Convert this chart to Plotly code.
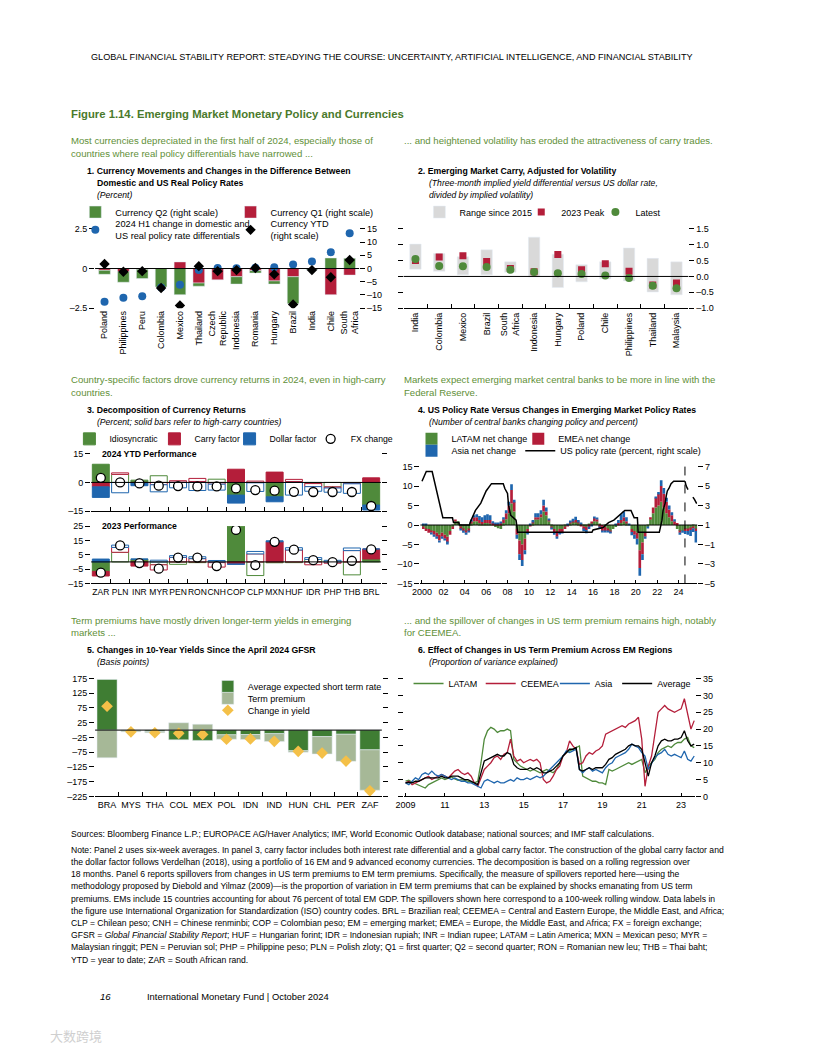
import plotly.graph_objects as go

# The page body keeps an 8px margin, so the figure is 800x1040 and page coordinates are mapped onto it.
FIG_W, FIG_H, PAGE_MARGIN = 800, 1040, 8
def px(x): return (x - PAGE_MARGIN) / FIG_W
def py(y): return 1 - (y - PAGE_MARGIN) / FIG_H

FONT = "Liberation Sans, Arial, sans-serif"
GREEN = "#4f8a3b"
RED = "#b41e3a"
BLUE = "#1f66ae"
GRAY = "#d9d9d9"
DKGREEN = "#3f7d33"
LTGREEN = "#a6b897"
YELLOW = "#f4c048"
CAPTION = "#5f9038"
TITLEGREEN = "#4a7a2c"

# ---------------- Panel 1 ----------------
P1_COUNTRIES = ["Poland", "Philippines", "Peru", "Colombia", "Mexico", "Thailand", "Czech<br>Republic",
                "Indonesia", "Romania", "Hungary", "Brazil", "India", "Chile", "South<br>Africa"]
P1_Q1 = [-0.7, -1.2, -0.3, 0.0, 2.5, -5.5, -4.3, -3.1, -0.8, -4.7, -3.1, -0.3, -9.9, -2.5]
P1_Q2 = [-1.5, -4.0, -3.5, -7.0, -9.9, -1.2, 0.0, -2.8, -0.9, -1.2, -10.2, -0.3, 4.0, 3.9]
P1_YTD = [1.7, -1.2, -1.0, -7.4, -14.0, 0.9, -1.0, -0.6, 0.2, -2.2, -13.6, -0.6, -3.3, 3.2]
P1_RATE_DIFF = [-2.1, -1.85, -1.75, -1.2, -1.03, -0.1, 0.04, 0.02, 0.05, 0.08, 0.25, 0.45, 1.03, 2.22]

# ---------------- Panel 2 ----------------
P2_COUNTRIES = ["India", "Colombia", "Mexico", "Brazil", "South<br>Africa", "Indonesia", "Hungary",
                "Poland", "Chile", "Philippines", "Thailand", "Malaysia"]
P2_RANGE_LOW = [0.23, 0.16, 0.05, 0.05, 0.13, -0.02, -0.35, -0.17, -0.07, -0.14, -0.49, -0.58]
P2_RANGE_HIGH = [1.02, 0.72, 0.62, 0.84, 0.46, 1.24, 0.70, 0.37, 0.46, 0.90, 0.57, 0.46]
P2_PEAK_2023 = [0.50, 0.61, 0.65, 0.47, 0.25, 0.15, 0.69, 0.21, 0.40, 0.16, -0.27, -0.21]
P2_LATEST = [0.55, 0.33, 0.32, 0.30, 0.21, 0.14, 0.10, 0.08, 0.03, -0.05, -0.29, -0.37]

# ---------------- Panel 3 ----------------
P3_CCY = ["ZAR", "PLN", "INR", "MYR", "PEN", "RON", "CNH", "COP", "CLP", "MXN", "HUF", "IDR", "PHP", "THB", "BRL"]
P3_HIGH_CARRY = ["ZAR", "INR", "COP", "MXN", "BRL"]
YTD_IDIO = [9.5, 4.2, 1.2, 3.5, 0.2, 0.5, 1.7, -6.6, -0.2, -7.5, 0.5, -0.6, -2.3, -0.2, -11.8]
YTD_CARRY = [-2.3, 0.8, -0.3, -1.2, 0.7, 1.6, -0.9, 6.9, 0.7, 5.4, 1.1, -1.6, -0.6, -0.5, 2.4]
YTD_DOLLAR = [-5.5, -5.4, -1.4, -3.7, -2.8, -4.2, -3.1, -4.2, -4.5, -2.6, -6.6, -2.4, -2.2, -5.0, -2.6]
YTD_FX = [2.4, 0.0, -0.5, -1.7, -1.9, -2.1, -2.1, -3.1, -4.0, -4.3, -4.9, -5.0, -5.0, -5.0, -12.3]
Y23_IDIO = [-6.6, 6.7, 1.8, -2.0, -1.7, -0.5, -0.5, 24.9, -9.5, -0.6, -0.5, 1.7, 0.0, -9.0, 2.1]
Y23_CARRY = [-3.2, 3.4, -2.9, -3.6, 3.2, 2.3, -3.1, -1.4, 5.6, 14.0, 8.3, -2.0, -0.9, 7.9, 6.9]
Y23_DOLLAR = [2.0, 1.6, 0.3, 1.2, 1.2, 1.3, 1.0, -0.3, 1.7, 0.7, 1.6, 1.3, 1.1, 1.8, 0.0]
Y23_FX = [-7.5, 11.5, -0.8, -4.7, 3.0, 3.0, -2.9, 22.3, -2.2, 14.0, 8.5, 1.2, -0.2, 0.8, 8.7]

# ---------------- Panel 4 (quarterly, 2000Q1 onward) ----------------
LATAM_NET = [-0.5, -1, -1, -1.5, -1.5, -2, -2.5, -2, -2.5, -3, -1.5, -0.5, 1.0, 1.0, -0.5, -1.0,
             -1.5, -1, 0.5, 1.0, 1.0, 0.5, 0.3, 0.5, 0.5, 0.3, 0, -0.5, -0.8, -1.0, 0.5, 1.5,
             3.0, 5.5, 3.5, -1.0, -4.0, -5.0, -3.5, -1.0, 0, 0.5, 1.5, 1.5, 2.0, 3.5, 2.5, 1.0,
             -0.5, -1.0, -1.5, -1.0, -1.0, -0.5, 0, 0.5, 0.8, 0.8, 0.5, 0.3, -0.3, -0.5, 0.3, 0.5,
             1.0, 1.0, 0.3, 0, -0.5, -1.0, -1.5, -1.0, -0.5, 0, 0.5, 1.0, 0.5, 0, -1.0, -1.5,
             -2.0, -6.5, -4.5, -2.0, -0.5, 1.5, 3.0, 4.5, 5.0, 6.0, 4.5, 3.0, 2.0, 1.0, 0, -1.0,
             -1.5, -1.5, -1.0, -1.0, -0.8, -0.5, -1.0]
EMEA_NET = [-0.5, -0.5, -1, -0.5, -1, -1, -1.5, -1, -1, -1.5, -1, -0.5, 0.3, 0, -0.5, -0.5,
            -0.5, -0.5, 0.5, 1.0, 1.0, 0.8, 0.5, 0.8, 0.8, 1.0, 0.5, 0.3, 0.3, 0.5, 1.0, 1.5,
            2.0, 3.5, 2.5, -1.5, -3.5, -4.0, -3.0, -1.0, -0.3, 0.3, 0.5, 0.5, 0.8, 1.5, 1.0, 0.3,
            -0.3, -1.0, -1.5, -1.0, -1.0, -0.5, -0.3, 0.3, 0.3, 0.5, 0.3, -0.3, -0.8, -0.8, -0.5, 0.3,
            0.8, 0.5, -0.5, -1.5, -1.0, -0.5, -0.3, 0, 0, 0.5, 0.8, 1.0, 0.5, 0, -0.8, -1.0,
            -1.5, -4.5, -3.0, -1.0, 0, 0.5, 1.5, 2.5, 3.0, 4.0, 3.5, 3.0, 2.0, 1.5, 1.0, 0.5,
            -0.5, 0, -0.5, -0.5, -0.5, -0.3, -0.5]
ASIA_NET = [0.3, 0.2, 0, -0.3, -0.5, -0.5, -0.5, -0.5, -0.5, -0.5, 0, 0, 0, 0, -0.3, -0.5,
            -0.5, -0.3, 0.3, 0.5, 0.8, 1.0, 1.2, 1.2, 1.5, 1.2, 0.5, 0.3, 0.2, 0.3, 0.5, 0.8,
            1.0, 1.5, 0.5, -1.0, -1.5, -1.5, -1.0, -0.3, 0.3, 0.5, 1.0, 1.0, 1.0, 1.5, 1.0, 0.3,
            -0.2, -0.5, -0.5, -0.3, -0.2, 0, 0.3, 0.3, 0.5, 0.8, 0.5, 0.3, -0.5, -0.8, -0.5, -0.3,
            0.3, 0.3, -0.2, -0.3, -0.3, -0.3, -0.3, 0, 0.3, 0.8, 1.5, 1.5, 1.0, 0.3, -0.8, -1.0,
            -1.5, -2.0, -1.5, -0.5, -0.3, 0, 0, 0.3, 0.5, 1.5, 1.5, 1.0, 1.0, 0.8, 0.5, 0,
            -0.5, -0.5, -0.8, -1.0, -1.5, -1.0, -3.0]
P4_T = [2000.125 + 0.25 * i for i in range(len(LATAM_NET))]
US_RATE_T = [2000.0, 2000.1, 2000.4, 2000.95, 2001.05, 2001.25, 2001.5, 2001.75, 2001.95, 2002.85,
             2002.95, 2003.45, 2003.5, 2004.45, 2004.5, 2005.0, 2005.5, 2006.0, 2006.5, 2007.6,
             2007.75, 2008.0, 2008.1, 2008.3, 2008.8, 2008.95, 2015.9, 2016.0, 2016.95, 2017.2,
             2017.45, 2017.95, 2018.2, 2018.45, 2018.75, 2018.97, 2019.55, 2019.65, 2019.8, 2019.85,
             2020.15, 2020.22, 2022.2, 2022.3, 2022.45, 2022.55, 2022.75, 2022.85, 2022.95, 2023.1,
             2023.3, 2023.55, 2024.6]
US_RATE = [5.5, 5.75, 6.5, 6.5, 6.0, 5.0, 3.9, 2.5, 1.75, 1.75,
           1.25, 1.25, 1.0, 1.0, 1.25, 2.5, 3.25, 4.5, 5.25, 5.25,
           4.75, 4.25, 3.0, 2.0, 1.5, 0.25, 0.25, 0.5, 0.75, 1.0,
           1.25, 1.5, 1.75, 2.0, 2.25, 2.5, 2.5, 2.25, 2.0, 1.75,
           1.75, 0.25, 0.25, 0.75, 1.5, 2.5, 3.25, 4.0, 4.5, 4.75,
           5.25, 5.5, 5.5]
US_PROJ_T = [2024.6, 2024.72, 2024.9, 2025.1, 2025.3, 2025.5, 2025.7]
US_PROJ = [5.5, 5.0, 4.6, 4.3, 4.0, 3.6, 3.2]
FORECAST_START = 2024.6
P4_YEARS = list(range(2000, 2025, 2))
P4_YEAR_LABELS = ["2000", "02", "04", "06", "08", "10", "12", "14", "16", "18", "20", "22", "24"]

# ---------------- Panel 5 ----------------
P5_CTRY = ["BRA", "MYS", "THA", "COL", "MEX", "POL", "IDN", "IND", "HUN", "CHL", "PER", "ZAF"]
P5_EXP_SHORT = [172, -2, -4, -33, -35, -16, -15, -12, -70, -22, -14, -67]
P5_TERM_PREM = [-94, -4, -5, 25, 20, -15, -17, -27, -5, -59, -92, -137]
P5_CHANGE = [81, -6, -9, -11, -15, -31, -30, -38, -72, -78, -105, -206]

# ---------------- Panel 6 (bi-monthly, from 2009) ----------------
P6_LATAM = [4.5, 4.8, 4.2, 3.8, 3.5, 3.0,
            2.5, 3.5, 4.0, 4.5, 5.0, 5.5,
            5.0, 5.5, 5.8, 5.2, 4.8, 5.0,
            4.8, 4.5, 4.2, 4.0, 4.5, 10.0,
            17.0, 19.5, 20.5, 20.0, 19.0, 19.5,
            19.5, 20.0, 19.5, 11.0, 10.0, 9.0,
            8.5, 8.0, 7.5, 8.0, 7.5, 7.0,
            7.5, 8.0, 7.5, 7.0, 8.0, 10.0,
            12.0, 13.0, 13.5, 14.0, 14.5, 15.0,
            6.0, 5.5, 5.0, 4.5, 4.5, 4.0,
            4.0, 3.5, 8.0, 7.5, 8.0, 8.5,
            9.0, 9.5, 10.0, 9.5, 10.0, 10.5,
            11.0, 7.0, 9.0, 10.0, 11.0, 13.0,
            14.0, 14.5, 15.0, 14.5, 15.5, 16.0,
            16.0, 17.0, 17.5, 15.0, 14.5]
P6_CEEMEA = [4.0, 4.5, 3.5, 4.0, 4.5, 5.0,
             5.5, 6.0, 5.0, 5.5, 6.0, 6.5,
             6.0, 5.5, 6.5, 7.5, 8.0, 7.0,
             6.5, 7.0, 6.0, 4.0, 3.0, 5.5,
             8.0, 9.0, 10.0, 11.5, 12.0, 11.0,
             12.5, 13.0, 17.0, 12.0, 10.5, 11.0,
             10.0, 10.5, 11.0, 10.5, 11.0, 10.0,
             5.0, 4.0, 4.5, 6.0, 8.0, 9.0,
             12.0, 13.0, 16.5, 15.0, 14.0, 9.5,
             10.0, 12.0, 13.0, 12.5, 13.5, 14.0,
             15.0, 18.5, 19.0, 19.5, 20.0, 20.5,
             21.0, 20.5, 21.5, 22.0, 22.5, 23.5,
             17.0, 3.0, 9.0, 12.0, 19.0, 25.0,
             26.0, 27.0, 26.0, 25.5, 25.0, 25.5,
             26.0, 29.0, 24.0, 20.0, 22.5]
P6_ASIA = [4.0, 3.5, 4.5, 5.5, 5.0, 6.5,
           7.0, 6.5, 7.5, 6.5, 6.0, 6.5,
           6.0, 5.5, 5.0, 5.5, 5.0, 4.5,
           4.5, 4.0, 4.0, 3.5, 3.0, 2.5,
           4.5, 5.0, 4.5, 4.0, 4.5, 4.0,
           4.0, 4.5, 5.0, 4.5, 5.5, 5.0,
           5.0, 5.5, 5.0, 5.5, 6.0, 5.5,
           6.0, 7.0, 8.0, 9.0, 10.0, 11.0,
           12.0, 13.5, 13.0, 13.5, 14.0, 8.0,
           7.0, 8.0, 8.5, 7.5, 8.0, 7.5,
           7.0, 8.5, 9.5, 10.0, 11.5, 12.0,
           12.5, 13.0, 14.0, 15.5, 15.0, 14.5,
           13.0, 12.0, 8.0, 10.0, 11.5, 12.5,
           13.0, 14.0, 12.5, 12.0, 12.5, 12.0,
           11.5, 13.5, 11.0, 10.5, 12.0]
P6_AVERAGE = [4.0, 4.2, 4.0, 4.5, 4.5, 5.0,
              5.5, 5.5, 5.5, 5.5, 5.5, 6.0,
              5.5, 5.5, 6.0, 6.0, 6.0, 5.5,
              5.0, 5.0, 4.5, 4.0, 3.5, 7.0,
              10.5, 11.0, 11.5, 12.0, 12.5, 12.0,
              12.0, 13.0, 12.5, 9.5, 8.5, 8.0,
              8.0, 8.0, 8.5, 8.0, 8.5, 8.0,
              7.0, 7.0, 7.5, 8.0, 9.0, 10.0,
              12.0, 13.0, 14.0, 14.0, 14.5, 8.0,
              7.5, 8.0, 8.5, 8.0, 8.5, 8.5,
              8.5, 9.5, 11.0, 11.5, 12.5, 13.0,
              13.5, 14.0, 15.0, 15.5, 15.0, 15.0,
              14.0, 10.0, 6.0, 10.0, 12.0, 15.0,
              16.5, 17.0, 16.5, 16.5, 17.0, 17.0,
              17.5, 19.5, 16.5, 15.0, 15.5]
P6_T = [2009.0 + k / 6 for k in range(len(P6_LATAM))]
P6_YEARS = list(range(2009, 2024, 2))
P6_YEAR_LABELS = ["2009", "11", "13", "15", "17", "19", "21", "23"]

fig = go.Figure()

LEGENDS = {}
def lg(lx, ty, size=9.2):
    n = len(LEGENDS) + 1
    key = "legend" if n == 1 else "legend%d" % n
    LEGENDS[key] = dict(x=px(lx), y=py(ty), xanchor="left", yanchor="middle", orientation="v",
                        font=dict(family=FONT, size=size, color="black"), bgcolor="rgba(0,0,0,0)",
                        borderwidth=0, itemclick=False, itemdoubleclick=False, tracegroupgap=0)
    return key

# Panel 1 traces
fig.add_trace(go.Bar(x=P1_COUNTRIES, y=P1_Q1, name="Currency Q1 (right scale)", marker_color=RED,
                     width=0.62, xaxis="x", yaxis="y", legend=lg(225, 209)))
fig.add_trace(go.Bar(x=P1_COUNTRIES, y=P1_Q2, name="Currency Q2 (right scale)", marker_color=GREEN,
                     width=0.62, xaxis="x", yaxis="y", legend=lg(68, 209)))
fig.add_trace(go.Scatter(x=P1_COUNTRIES, y=P1_RATE_DIFF, mode="markers",
                         name="2024 H1 change in domestic and<br>US real policy rate differentials",
                         marker=dict(color=BLUE, size=8), xaxis="x", yaxis="y2", legend=lg(68, 227)))
fig.add_trace(go.Scatter(x=P1_COUNTRIES, y=P1_YTD, mode="markers", name="Currency YTD<br>(right scale)",
                         marker=dict(color="black", size=8, symbol="diamond"), xaxis="x", yaxis="y3",
                         legend=lg(225, 227)))

# Panel 2 traces
fig.add_trace(go.Bar(x=P2_COUNTRIES, y=[h - l for h, l in zip(P2_RANGE_HIGH, P2_RANGE_LOW)], base=P2_RANGE_LOW,
                     name="Range since 2015", marker_color=GRAY, width=0.48, xaxis="x2", yaxis="y4",
                     legend=lg(416, 209, 9)))
fig.add_trace(go.Scatter(x=P2_COUNTRIES, y=P2_PEAK_2023, mode="markers", name="2023 Peak",
                         marker=dict(color=RED, size=7, symbol="square"), xaxis="x2", yaxis="y4",
                         legend=lg(519, 209, 9)))
fig.add_trace(go.Scatter(x=P2_COUNTRIES, y=P2_LATEST, mode="markers", name="Latest",
                         marker=dict(color=GREEN, size=8), xaxis="x2", yaxis="y4", legend=lg(594, 209, 9)))

# Panel 3 traces
def fills(color):
    return [color if c in P3_HIGH_CARRY else "white" for c in P3_CCY]

for (vals_a, vals_b, name, color, lx) in [(YTD_IDIO, Y23_IDIO, "Idiosyncratic", GREEN, 62),
                                          (YTD_CARRY, Y23_CARRY, "Carry factor", RED, 148),
                                          (YTD_DOLLAR, Y23_DOLLAR, "Dollar factor", BLUE, 224)]:
    fig.add_trace(go.Bar(x=P3_CCY, y=vals_a, name=name, width=0.88,
                         marker=dict(color=fills(color), line=dict(color=color, width=1)),
                         xaxis="x3", yaxis="y5", legend=lg(lx, 438, 8.7)))
    fig.add_trace(go.Bar(x=P3_CCY, y=vals_b, name=name, width=0.88, showlegend=False,
                         marker=dict(color=fills(color), line=dict(color=color, width=1)),
                         xaxis="x4", yaxis="y6"))
fig.add_trace(go.Scatter(x=P3_CCY, y=YTD_FX, mode="markers", name="FX change",
                         marker=dict(color="white", size=9, line=dict(color="black", width=1.3)),
                         xaxis="x3", yaxis="y5", legend=lg(306, 438, 8.7)))
fig.add_trace(go.Scatter(x=P3_CCY, y=Y23_FX, mode="markers", name="FX change", showlegend=False,
                         marker=dict(color="white", size=9, line=dict(color="black", width=1.3)),
                         xaxis="x4", yaxis="y6"))

# Panel 4 traces
fig.add_trace(go.Bar(x=P4_T, y=LATAM_NET, name="LATAM net change", marker=dict(color=GREEN, line=dict(width=0)),
                     width=0.25, xaxis="x5", yaxis="y7", legend=lg(408, 438, 9)))
fig.add_trace(go.Bar(x=P4_T, y=EMEA_NET, name="EMEA net change", marker=dict(color=RED, line=dict(width=0)),
                     width=0.25, xaxis="x5", yaxis="y7", legend=lg(516, 438, 9)))
fig.add_trace(go.Bar(x=P4_T, y=ASIA_NET, name="Asia net change", marker=dict(color=BLUE, line=dict(width=0)),
                     width=0.25, xaxis="x5", yaxis="y7", legend=lg(408, 450, 9)))
fig.add_trace(go.Scatter(x=US_RATE_T, y=US_RATE, mode="lines", name="US policy rate (percent, right scale)",
                         line=dict(color="black", width=1.5), xaxis="x5", yaxis="y8", legend=lg(518, 450, 9)))
fig.add_trace(go.Scatter(x=US_PROJ_T, y=US_PROJ, mode="lines", showlegend=False,
                         line=dict(color="black", width=1.5, dash="dash"), xaxis="x5", yaxis="y8"))

# Panel 5 traces
fig.add_trace(go.Bar(x=P5_CTRY, y=P5_EXP_SHORT, name="Average expected short term rate", marker_color=DKGREEN,
                     width=0.84, xaxis="x6", yaxis="y9", legend=lg(202, 688, 9)))
fig.add_trace(go.Bar(x=P5_CTRY, y=P5_TERM_PREM, name="Term premium", marker_color=LTGREEN,
                     width=0.84, xaxis="x6", yaxis="y9", legend=lg(202, 700, 9)))
fig.add_trace(go.Scatter(x=P5_CTRY, y=P5_CHANGE, mode="markers", name="Change in yield",
                         marker=dict(color=YELLOW, size=9, symbol="diamond"), xaxis="x6", yaxis="y9",
                         legend=lg(202, 712, 9)))

# Panel 6 traces
for vals, name, color, lx in [(P6_LATAM, "LATAM", GREEN, 405), (P6_CEEMEA, "CEEMEA", RED, 478),
                              (P6_ASIA, "Asia", BLUE, 553), (P6_AVERAGE, "Average", "black", 616)]:
    fig.add_trace(go.Scatter(x=P6_T, y=vals, mode="lines", name=name, line=dict(color=color, width=1.3),
                             xaxis="x7", yaxis="y10", legend=lg(lx, 685, 9)))

TICKF = dict(family=FONT, size=9, color="black")

def dash_labels(vals, fmt="{:g}"):
    return [fmt.format(v).replace("-", "–") for v in vals]

def yax(dom, rng, vals, side="left", labels=True, mirror=False, fmt="{:g}", **kw):
    d = dict(domain=[py(dom[0]), py(dom[1])], range=rng, tickvals=vals, ticktext=dash_labels(vals, fmt),
             side=side, ticks="outside", ticklen=5, tickcolor="black", tickwidth=1, showgrid=False,
             zeroline=False, showline=False, showticklabels=labels, tickfont=TICKF, fixedrange=True)
    if mirror:
        d["mirror"] = "ticks"
    d.update(kw)
    return d

def xcat(dom, anchor, n, line=False, labels=True, angle=0, ticks="", size=9):
    d = dict(domain=[px(dom[0]), px(dom[1])], anchor=anchor, type="category", range=[-0.5, n - 0.5],
             showgrid=False, zeroline=False,
             showline=line, linecolor="black", linewidth=1, showticklabels=labels, tickangle=angle,
             tickfont=dict(family=FONT, size=size, color="black"), ticks=ticks, ticklen=4,
             tickcolor="black", fixedrange=True)
    if ticks:
        d["tickson"] = "boundaries"
    return d

layout = dict(
    width=FIG_W, height=FIG_H, margin=dict(l=0, r=0, t=0, b=0), autosize=False,
    paper_bgcolor="white", plot_bgcolor="white", barmode="relative",
    font=dict(family=FONT, size=9.5, color="black"),
    # Panel 1
    xaxis=xcat((88, 355), "y", len(P1_COUNTRIES), angle=-90),
    yaxis=yax((306, 226), [-15, 15], [-15, -10, -5, 0, 5, 10, 15], side="right", anchor="x"),
    yaxis2=yax((306, 226), [-2.5, 2.5], [-2.5, 0, 2.5], side="left", overlaying="y", anchor="x"),
    yaxis3=dict(overlaying="y", range=[-15, 15], visible=False, anchor="x"),
    # Panel 2
    xaxis2=xcat((400, 688), "y4", len(P2_COUNTRIES), line=True, angle=-90, ticks="inside"),
    yaxis4=yax((306, 226), [-1.0, 1.5], [-1.0, -0.5, 0, 0.5, 1.0, 1.5], side="right", mirror=True,
               fmt="{:.1f}", anchor="x2"),
    # Panel 3
    xaxis3=xcat((84, 377), "y5", len(P3_CCY), line=True, labels=False, ticks="inside"),
    yaxis5=yax((511, 453), [-15, 15], [-15, 0, 15], mirror=True, anchor="x3"),
    xaxis4=xcat((84, 377), "y6", len(P3_CCY), line=True, ticks="inside", size=8.5),
    yaxis6=yax((584, 526), [-15, 25], [-15, -5, 5, 15, 25], mirror=True, anchor="x4"),
    # Panel 4
    xaxis5=dict(domain=[px(417), px(697)], anchor="y7", range=[1999.85, 2025.75], tickvals=P4_YEARS,
                ticktext=P4_YEAR_LABELS, showline=True, linecolor="black", ticks="inside", ticklen=3,
                tickcolor="black", showgrid=False, zeroline=False, tickfont=TICKF, fixedrange=True),
    yaxis7=yax((584, 466), [-15, 15], [-15, -10, -5, 0, 5, 10, 15], anchor="x5"),
    yaxis8=yax((584, 466), [-5, 7], [-5, -3, -1, 1, 3, 5, 7], side="right", overlaying="y7", anchor="x5"),
    # Panel 5
    xaxis6=xcat((88, 378), "y9", len(P5_CTRY), line=True, ticks="inside", size=9),
    yaxis9=yax((799, 680), [-225, 175], [-225, -175, -125, -75, -25, 25, 75, 125, 175], mirror=True,
               anchor="x6"),
    # Panel 6
    xaxis7=dict(domain=[px(400), px(695)], anchor="y10", range=[2008.9, 2023.72], tickvals=P6_YEARS,
                ticktext=P6_YEAR_LABELS, showline=True, linecolor="black", ticks="inside", ticklen=3,
                tickcolor="black", showgrid=False, zeroline=False, tickfont=TICKF, fixedrange=True),
    yaxis10=yax((799, 680), [0, 35], [0, 5, 10, 15, 20, 25, 30, 35], side="right", mirror=True, anchor="x7"),
)
layout.update(LEGENDS)
fig.update_layout(**layout)

# zero lines (reference lines on top of bars)
for xr, yr in [("x", "y"), ("x2", "y4"), ("x3", "y5"), ("x4", "y6"), ("x5", "y7"), ("x6", "y9")]:
    fig.add_shape(type="line", xref=xr + " domain", yref=yr, x0=0, x1=1, y0=0, y1=0,
                  line=dict(color="black", width=1), layer="above")
fig.add_shape(type="line", xref="x5", yref="y7 domain", x0=FORECAST_START, x1=FORECAST_START, y0=0, y1=1,
              line=dict(color="black", width=1, dash="dash"), layer="above")

def txt(x, y, text, size=9, color="black", bold=False, italic=False, anchor="left", family=FONT):
    if bold:
        text = "<b>" + text + "</b>"
    if italic:
        text = "<i>" + text + "</i>"
    fig.add_annotation(x=px(x), y=py(y), xref="paper", yref="paper", text=text, showarrow=False,
                       xanchor=anchor, yanchor="middle", align="left",
                       font=dict(family=family, size=size, color=color))

txt(388, 52, "GLOBAL FINANCIAL STABILITY REPORT: STEADYING THE COURSE: UNCERTAINTY, ARTIFICIAL INTELLIGENCE, AND FINANCIAL STABILITY",
    size=9.1, anchor="center")
txt(62, 110, "Figure 1.14. Emerging Market Monetary Policy and Currencies", size=11.3, color=TITLEGREEN, bold=True)

# captions
CAP = 9.6
txt(62, 137, "Most currencies depreciated in the first half of 2024, especially those of", size=CAP, color=CAPTION)
txt(62, 150, "countries where real policy differentials have narrowed ...", size=CAP, color=CAPTION)
txt(398, 137, "... and heightened volatility has eroded the attractiveness of carry trades.", size=CAP, color=CAPTION)
txt(62, 378, "Country-specific factors drove currency returns in 2024, even in high-carry", size=CAP, color=CAPTION)
txt(62, 391, "countries.", size=CAP, color=CAPTION)
txt(398, 378, "Markets expect emerging market central banks to be more in line with the", size=CAP, color=CAPTION)
txt(398, 391, "Federal Reserve.", size=CAP, color=CAPTION)
txt(62, 621, "Term premiums have mostly driven longer-term yields in emerging", size=CAP, color=CAPTION)
txt(62, 634, "markets ...", size=CAP, color=CAPTION)
txt(398, 621, "... and the spillover of changes in US term premium remains high, notably", size=CAP, color=CAPTION)
txt(398, 634, "for CEEMEA.", size=CAP, color=CAPTION)

# panel titles
TS = 8.7
SS = 8.6
txt(78, 168, "1. Currency Movements and Changes in the Difference Between", size=TS, bold=True)
txt(88, 180, "Domestic and US Real Policy Rates", size=TS, bold=True)
txt(88, 192, "(Percent)", size=SS, italic=True)
txt(413, 168, "2. Emerging Market Carry, Adjusted for Volatility", size=TS, bold=True)
txt(424, 180, "(Three-month implied yield differential versus US dollar rate,", size=SS, italic=True)
txt(424, 192, "divided by implied volatility)", size=SS, italic=True)
txt(78, 409, "3. Decomposition of Currency Returns", size=TS, bold=True)
txt(88, 421, "(Percent; solid bars refer to high-carry countries)", size=SS, italic=True)
txt(93, 453, "2024 YTD Performance", size=TS, bold=True)
txt(93, 526, "2023 Performance", size=TS, bold=True)
txt(413, 409, "4. US Policy Rate Versus Changes in Emerging Market Policy Rates", size=TS, bold=True)
txt(424, 421, "(Number of central banks changing policy and percent)", size=SS, italic=True)
txt(78, 651, "5. Changes in 10-Year Yields Since the April 2024 GFSR", size=TS, bold=True)
txt(88, 663, "(Basis points)", size=SS, italic=True)
txt(413, 651, "6. Effect of Changes in US Term Premium Across EM Regions", size=TS, bold=True)
txt(424, 663, "(Proportion of variance explained)", size=SS, italic=True)

# notes
NS = 8.6
txt(62, 837, "Sources: Bloomberg Finance L.P.; EUROPACE AG/Haver Analytics; IMF, World Economic Outlook database; national sources; and IMF staff calculations.", size=NS)
NOTE_LINES = [
    "Note: Panel 2 uses six-week averages. In panel 3, carry factor includes both interest rate differential and a global carry factor. The construction of the global carry factor and",
    "the dollar factor follows Verdelhan (2018), using a portfolio of 16 EM and 9 advanced economy currencies. The decomposition is based on a rolling regression over",
    "18 months. Panel 6 reports spillovers from changes in US term premiums to EM term premiums. Specifically, the measure of spillovers reported here—using the",
    "methodology proposed by Diebold and Yilmaz (2009)—is the proportion of variation in EM term premiums that can be explained by shocks emanating from US term",
    "premiums. EMs include 15 countries accounting for about 76 percent of total EM GDP. The spillovers shown here correspond to a 100-week rolling window. Data labels in",
    "the figure use International Organization for Standardization (ISO) country codes. BRL = Brazilian real; CEEMEA = Central and Eastern Europe, the Middle East, and Africa;",
    "CLP = Chilean peso; CNH = Chinese renminbi; COP = Colombian peso; EM = emerging market; EMEA = Europe, the Middle East, and Africa; FX = foreign exchange;",
    "GFSR = <i>Global Financial Stability Report</i>; HUF = Hungarian forint; IDR = Indonesian rupiah; INR = Indian rupee; LATAM = Latin America; MXN = Mexican peso; MYR =",
    "Malaysian ringgit; PEN = Peruvian sol; PHP = Philippine peso; PLN = Polish zloty; Q1 = first quarter; Q2 = second quarter; RON = Romanian new leu; THB = Thai baht;",
    "YTD = year to date; ZAR = South African rand.",
]
for i, line in enumerate(NOTE_LINES):
    txt(62, 853 + i * 12.3, line, size=NS)

txt(99, 1001, "<i>16</i>", size=9.6, anchor="center")
txt(138, 1001, "International Monetary Fund | October 2024", size=9.4)
txt(40, 1040, "大数跨境", size=13, color="#cfcfcf", family="Noto Sans CJK SC")

fig.write_html("out.html", config={"displayModeBar": False})
